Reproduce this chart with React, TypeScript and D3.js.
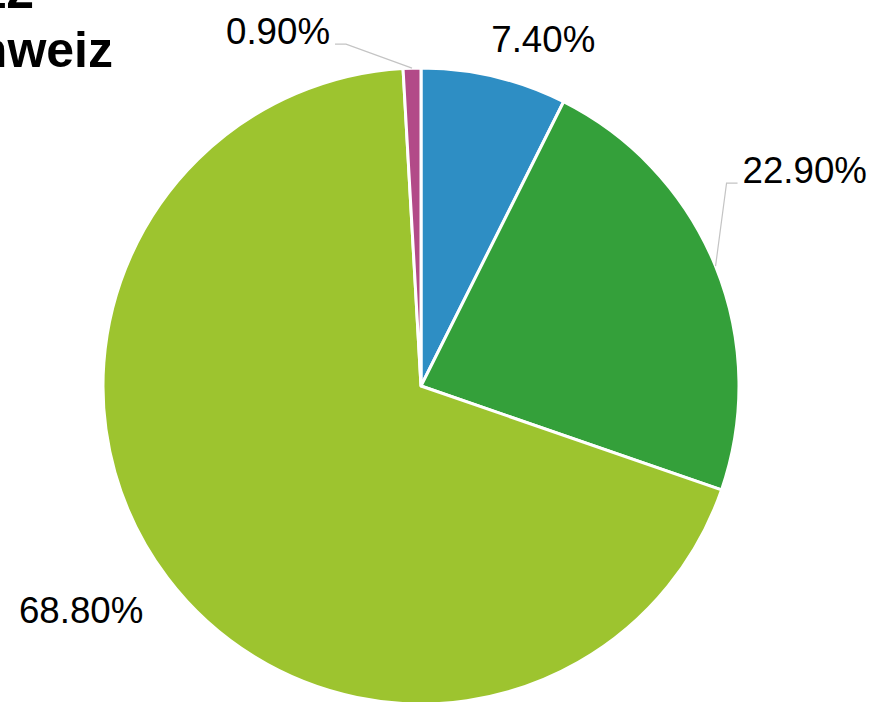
import React, { useEffect, useRef } from 'react'
import * as d3 from 'd3'

// slice order clockwise from 12 o'clock
const categories = ['A', 'B', 'C', 'D']
const shares = [7.4, 22.9, 68.8, 0.9]
const labels = ['7.40%', '22.90%', '68.80%', '0.90%']
const colors = ['#2e8ec4', '#34a03a', '#9dc42f', '#b24a88']
const titleLines = ['Stromproduktion 2012', 'Schweiz']

// label placement relative to the slice's outer point: [dx, dy, anchor, connector]
const labelLayout: [number, number, string, boolean][] = [
  [-3, -25, 'start', false],
  [27, -83, 'start', true],
  [-24, 45, 'end', false],
  [-82, -24, 'end', true],
]

const width = 872,
  height = 702,
  cx = 421,
  cy = 386,
  radius = 318

export default function App() {
  const ref = useRef<SVGSVGElement>(null)

  useEffect(() => {
    const svg = d3.select(ref.current)
    svg.selectAll('*').remove()

    const pie = d3
      .pie<number>()
      .sort(null)
      .value((d) => d)
    const arcs = pie(shares)

    const arc = d3.arc<d3.PieArcDatum<number>>().innerRadius(0).outerRadius(radius)
    const rim = d3.arc<d3.PieArcDatum<number>>().innerRadius(radius).outerRadius(radius)

    const g = svg.append('g').attr('transform', `translate(${cx}, ${cy})`)

    g.selectAll('path.slice')
      .data(arcs)
      .enter()
      .append('path')
      .attr('class', 'slice')
      .attr('d', arc)
      .attr('fill', (d, i) => colors[i])
      .attr('stroke', '#ffffff')
      .attr('stroke-width', 3)
      .attr('stroke-linejoin', 'round')

    arcs.forEach((d, i) => {
      const [ox, oy] = rim.centroid(d)
      const [dx, dy, anchor, connector] = labelLayout[i]
      const lx = ox + dx,
        ly = oy + dy

      if (connector) {
        const dir = anchor === 'start' ? -1 : 1
        g.append('path')
          .attr('d', d3.line()([
            [ox, oy],
            [lx + dir * 16, ly],
            [lx + dir * 5, ly],
          ]))
          .attr('fill', 'none')
          .attr('stroke', '#c4c4c4')
          .attr('stroke-width', 1.2)
      }

      g.append('text')
        .attr('x', lx)
        .attr('y', ly)
        .attr('text-anchor', anchor)
        .attr('font-family', '"Liberation Sans", Arial, sans-serif')
        .attr('font-size', '36.7px')
        .attr('fill', '#000')
        .text(labels[i])
    })

    svg.append('g')
      .selectAll('text')
      .data(titleLines)
      .enter()
      .append('text')
      .attr('x', (d, i) => (i === 0 ? 34 : 113))
      .attr('y', (d, i) => 8 + i * 59)
      .attr('text-anchor', 'end')
      .attr('font-family', '"Liberation Sans", Arial, sans-serif')
      .attr('font-weight', 'bold')
      .attr('font-size', '50px')
      .attr('fill', '#000')
      .text((d) => d)
  }, [])

  return (
    <svg
      ref={ref}
      width={width}
      height={height}
      style={{ position: 'absolute', left: 0, top: 0, background: '#fff' }}
      aria-label={categories.join(', ')}
    />
  )
}
